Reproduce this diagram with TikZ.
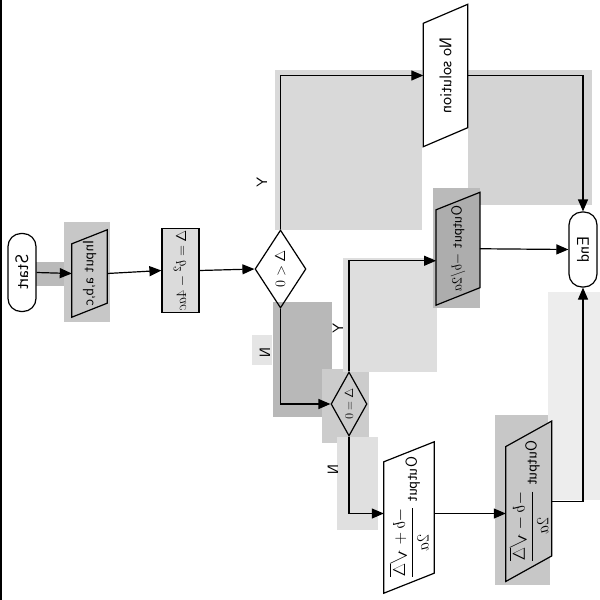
\documentclass[tikz,border=0pt]{standalone}
\usepackage{graphicx}
\usetikzlibrary{arrows.meta,shapes.geometric,calc}
\pgfdeclarelayer{patches}
\pgfdeclarelayer{outlines}
\pgfsetlayers{patches,outlines,main}
% text set sideways and mirrored, as on the scanned sheet
\newcommand{\sidew}[1]{\reflectbox{\rotatebox{-90}{#1}}}
\newcommand{\fs}[1]{\fontsize{#1}{#1}\selectfont}
% slanted input/output box drawn round a plain node: name, slant, fill
\newcommand{\slantbox}[3]{%
  \begin{pgfonlayer}{outlines}
    \draw[line width=1.2pt, fill=#3]
      ($(#1.north west)+(0,#2/2)$) -- ($(#1.north east)-(0,#2/2)$) --
      ($(#1.south east)-(0,#2/2)$) -- ($(#1.south west)+(0,#2/2)$) -- cycle;
  \end{pgfonlayer}}
\tikzset{
  every node/.style={font=\sffamily},
  terminal/.style={draw, line width=1.2pt, rounded corners=13pt, fill=white,
    minimum width=28pt, minimum height=78pt, inner sep=0pt},
  procbox/.style={draw, line width=1.2pt, inner sep=0pt},
  decision/.style={draw, diamond, line width=1.2pt, inner sep=0pt, aspect=0.65},
  iobox/.style={inner sep=0pt},
  flow/.style={line width=1.2pt, -{Triangle[length=12pt,width=10pt]}},
  lbl/.style={inner sep=0pt, font=\sffamily\fs{15}},
}
\begin{document}
\begin{tikzpicture}[x=1pt,y=-1pt]
\useasboundingbox (0,0) rectangle (600,600);

% grey smudges of the scan
\begin{pgfonlayer}{patches}
  \fill[white] (0,0) rectangle (600,600);
  \fill[black!24] (10,255) rectangle (33,302);
  \fill[black!27] (33,262) rectangle (72,286);
  \fill[black!22] (64,222) rectangle (110,322);
  \fill[black!15] (275,70) rectangle (422,230);
  \fill[black!17] (468,70) rectangle (592,205);
  \fill[black!28] (273,302) rectangle (332,417);
  \fill[black!10] (252,335) rectangle (272,365);
  \fill[black!20] (322,369) rectangle (369,443);
  \fill[black!13] (343,258) rectangle (437,372);
  \fill[black!27] (433,188) rectangle (480,308);
  \fill[black!12] (337,437) rectangle (378,530);
  \fill[black!22] (495,415) rectangle (550,585);
  \fill[black!7] (548,292) rectangle (600,500);
  \draw[line width=1.5pt] (1,0) -- (1,600);
\end{pgfonlayer}

% terminals
\node[terminal] (start) at (22,272.5) {\sidew{\fs{18}Start}};
\node[terminal, minimum height=75pt] (end) at (583,249.5) {\sidew{\fs{17}End}};

% input
\node[iobox, minimum width=35pt, minimum height=73pt] (inp) at (89.5,273.5)
  {\sidew{\fs{15}Input a,b,c}};
\slantbox{inp}{14}{none}

% discriminant
\node[procbox, fill=black!14, minimum width=37pt, minimum height=84pt] (disc) at (180.5,270.5)
  {\sidew{\fs{15}$\Delta=b^2-4ac$}};

% decisions
\node[decision, minimum width=51pt, minimum height=78pt] (d1) at (280.5,269)
  {\sidew{\fs{15}$\Delta<0$}};
\node[decision, minimum width=36pt, minimum height=64pt] (d2) at (349,404)
  {\sidew{\fs{13}$\Delta=0$}};

% outputs
\node[iobox, minimum width=44pt, minimum height=123pt] (nosol) at (445.5,75.5)
  {\sidew{\fs{17}No solution}};
\slantbox{nosol}{19}{white}

\node[iobox, minimum width=43.5pt, minimum height=95pt] (oneroot) at (458,248.75)
  {\sidew{\fs{14.5}Output $-b/2a$}};
\slantbox{oneroot}{17.5}{black!32}

\node[iobox, minimum width=50pt, minimum height=131pt] (rootp) at (409,517.5)
  {\sidew{\fs{16}Output $\displaystyle\frac{-b+\sqrt{\Delta}}{2a}$}};
\slantbox{rootp}{20}{white}

\node[iobox, minimum width=45.5pt, minimum height=134.5pt] (rootm) at (528.75,501.25)
  {\sidew{\fs{16}Output $\displaystyle\frac{-b-\sqrt{\Delta}}{2a}$}};
\slantbox{rootm}{25.5}{black!22}

% branch labels
\node[lbl] (ylab1) at (262,182) {\sidew{Y}};
\node[lbl] (nlab1) at (265,353) {\sidew{N}};
\node[lbl] (ylab2) at (338,328) {\sidew{Y}};
\node[lbl] (nlab2) at (333,470) {\sidew{N}};

% connectors
\draw[flow] (start.east) -- (inp.west);
\draw[flow] (inp.east) -- (disc.west);
\draw[flow] (disc.east) -- (d1.west);
\draw[flow] (d1.north) |- (nosol.west);
\draw[flow] (nosol.east) -| (end.north);
\draw[flow] (d1.south) |- (d2.west);
\draw[flow] (d2.north) |- ($(oneroot.west)+(0,12)$);
\draw[flow] (oneroot.east) -- (end.west);
\draw[flow] (d2.south) |- ($(rootp.west)+(0,-4)$);
\draw[flow] ($(rootp.east)+(0,-4)$) -- ($(rootp.east -| rootm.west)+(0,-4)$);
\draw[flow] (rootm.east) -| (end.south);
\end{tikzpicture}
\end{document}
